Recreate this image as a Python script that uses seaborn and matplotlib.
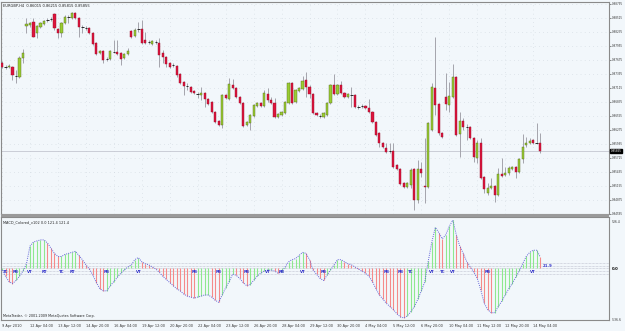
import numpy as np
import matplotlib
matplotlib.use("Agg")
import matplotlib.pyplot as plt
import matplotlib.transforms as mtransforms
from matplotlib.patches import Rectangle
import seaborn as sns

symbol = "EURGBP,H4"

# H4 candles, prices in points (1e-5)
opens = [87615, 87535, 87535, 87535, 87355, 87335, 87715, 88355, 88375, 88435,
         88215, 88335, 88395, 88475, 88495, 88595, 88295, 88215, 88415, 88535,
         88515, 88615, 88515, 88335, 88315, 88315, 88215, 88015, 87815, 87855,
         87695, 87695, 87835, 87835, 87815, 87715, 87795, 88255, 88155, 88295,
         88295, 88075, 88035, 87995, 88035, 88015, 87815, 87735, 87615, 87575,
         87555, 87395, 87235, 87155, 87135, 87055, 86995, 86975, 87015, 86895,
         86835, 86635, 86455, 86375, 86975, 86895, 87175, 87115, 86935, 86815,
         86375, 86415, 86555, 86755, 86815, 86755, 86995, 86875, 86815, 86535,
         86575, 86615, 86815, 87215, 86835, 87055, 87095, 87275, 87135, 86995,
         86615, 86555, 86535, 86575, 86815, 87175, 86995, 87175, 87015, 86935,
         86975, 86975, 86735, 86755, 86755, 86715, 86635, 86435, 86215, 86015,
         85915, 85855, 85855, 85575, 85495, 85215, 85135, 85175, 85495, 84875,
         85495, 85155, 85135, 86275, 87115, 86795, 86215, 86935, 86775, 86935,
         87335, 86195, 86455, 86335, 86335, 86115, 85715, 86015, 85335, 85015,
         85115, 85155, 84975, 85395, 85375, 85415, 85495, 85535, 85435, 85695,
         85975, 86015, 86075, 86015, 86015]
highs = [87655, 87575, 87595, 87555, 87475, 87755, 87895, 88515, 88435, 88515,
         88375, 88435, 88475, 88515, 88535, 88615, 88315, 88435, 88575, 88575,
         88635, 88635, 88535, 88375, 88355, 88335, 88235, 88035, 87875, 87875,
         87735, 87875, 88075, 88075, 87835, 87815, 87915, 88275, 88315, 88435,
         88475, 88235, 88075, 88075, 88075, 88115, 87875, 87755, 87635, 87615,
         87575, 87415, 87255, 87215, 87155, 87075, 87035, 87135, 87035, 86915,
         86855, 86655, 86475, 86995, 86995, 87315, 87295, 87135, 86955, 86835,
         86455, 86595, 86795, 86835, 86835, 87075, 87115, 86935, 86915, 86615,
         86655, 86855, 87235, 87235, 87095, 87135, 87355, 87435, 87175, 87015,
         86635, 86595, 86635, 86835, 87195, 87395, 87195, 87255, 87035, 87015,
         87135, 86995, 86775, 86795, 86775, 86895, 86655, 86455, 86235, 86035,
         86015, 86015, 86015, 85595, 85515, 85235, 85235, 85515, 85515, 85675,
         85635, 86115, 86435, 87215, 88135, 86815, 86235, 87415, 87235, 87595,
         87355, 86635, 86515, 86395, 86355, 86135, 86075, 86115, 85355, 85215,
         85315, 85175, 85515, 85715, 85535, 85555, 85555, 85555, 85715, 86195,
         86135, 86115, 86095, 86415, 86215]
lows = [87515, 87495, 87515, 87275, 87215, 87315, 87615, 88215, 88335, 88135,
        88115, 88315, 88375, 88435, 88455, 88275, 88115, 88135, 88395, 88415,
        88495, 88495, 88135, 88215, 88275, 88195, 87975, 87775, 87795, 87615,
        87655, 87675, 87815, 87775, 87575, 87695, 87775, 88115, 88135, 88235,
        87995, 87995, 87995, 87975, 87995, 87535, 87615, 87535, 87515, 87535,
        87335, 87195, 86975, 87075, 87015, 86995, 86915, 86875, 86735, 86775,
        86615, 86415, 86355, 86315, 86895, 86875, 87095, 86915, 86795, 86335,
        86355, 86275, 86535, 86735, 86735, 86735, 86835, 86795, 86515, 86515,
        86555, 86595, 86795, 86795, 86815, 87035, 87075, 86935, 86915, 86595,
        86555, 86515, 86515, 86555, 86795, 86975, 86975, 86995, 86915, 86915,
        86735, 86715, 86695, 86715, 86695, 86615, 86415, 86155, 85935, 85915,
        85815, 85815, 85515, 85475, 85175, 85115, 85115, 85115, 84675, 84815,
        85335, 84815, 85115, 86255, 86575, 86175, 86115, 86675, 86635, 86915,
        86155, 85735, 86275, 86075, 86095, 85635, 85615, 85295, 85015, 84975,
        85095, 84835, 84955, 85335, 85355, 85375, 85475, 85315, 85415, 85615,
        85935, 85995, 85995, 85995, 85815]
closes = [87535, 87535, 87555, 87375, 87355, 87715, 87815, 88395, 88415, 88135,
          88355, 88415, 88455, 88475, 88495, 88315, 88215, 88415, 88535, 88535,
          88615, 88515, 88335, 88335, 88315, 88215, 87995, 87795, 87855, 87675,
          87695, 87855, 87835, 87795, 87695, 87795, 87855, 88135, 88275, 88295,
          88015, 88015, 88035, 88055, 88035, 87775, 87735, 87595, 87535, 87575,
          87375, 87215, 87155, 87155, 87035, 87015, 86995, 87015, 86895, 86795,
          86635, 86435, 86375, 86975, 86915, 87195, 87115, 86935, 86815, 86355,
          86435, 86575, 86775, 86815, 86755, 87015, 86875, 86815, 86535, 86595,
          86635, 86835, 87215, 86815, 87075, 87115, 87255, 87135, 86995, 86615,
          86575, 86555, 86615, 86815, 87175, 86995, 87175, 87015, 86935, 86995,
          86975, 86735, 86735, 86755, 86715, 86635, 86435, 86175, 86015, 85935,
          85835, 85855, 85535, 85495, 85195, 85135, 85215, 85475, 84875, 85495,
          85415, 85135, 86415, 87135, 86775, 86215, 86135, 86795, 86955, 87335,
          86175, 86455, 86335, 86335, 86115, 85735, 86015, 85315, 85095, 85115,
          85155, 84975, 85395, 85355, 85415, 85515, 85535, 85435, 85695, 85935,
          86015, 86055, 86015, 86015, 85855]

# MACD_Colored main line, one value per candle
macd = [-16, -81, -136, -157, -125, -81, -27, 49, 233, 276,
        287, 298, 298, 266, 211, 157, 125, 125, 146, 157,
        168, 179, 136, 92, 38, -5, -70, -146, -211, -233,
        -233, -179, -136, -92, -49, -16, 16, 38, 92, 114,
        70, 49, 38, 16, -5, -38, -81, -114, -146, -179,
        -211, -233, -266, -287, -298, -309, -298, -287, -276, -276,
        -298, -331, -352, -276, -201, -136, -60, -70, -103, -146,
        -179, -168, -125, -81, -49, -27, -16, -16, -27, -49,
        -38, 16, 70, 92, 103, 136, 168, 157, 92, -16,
        -60, -103, -125, -70, -16, 38, 92, 92, 70, 49,
        38, 16, -5, -27, -49, -81, -136, -211, -276, -320,
        -363, -396, -428, -472, -504, -515, -493, -450, -396, -320,
        -233, -136, 81, 276, 428, 374, 309, 352, 439, 504,
        352, 233, 157, 70, 16, -38, -103, -222, -363, -428,
        -461, -461, -396, -342, -276, -211, -157, -92, -27, 49,
        125, 168, 190, 190, 121.4]
macd_levels = [55, 27, 0, -27, -55]

signal_tags = ["TC", "RB", "VT", "RT", "TC", "RT", "RB", "VT", "RB", "RB", "RB", "VT",
               "RB", "VT", "RB", "RB", "RB", "TC", "VT", "TC", "VT", "RB", "VT"]
signal_bars = [1, 4, 8, 12, 17, 20, 30, 39, 55, 62, 70, 76,
               80, 86, 92, 110, 114, 117, 123, 126, 129, 139, 152]

date_labels = ["9 Apr 2010", "12 Apr 04:00", "13 Apr 12:00", "14 Apr 20:00", "16 Apr 04:00",
               "19 Apr 12:00", "20 Apr 20:00", "22 Apr 04:00", "23 Apr 12:00", "26 Apr 20:00",
               "28 Apr 04:00", "29 Apr 12:00", "30 Apr 20:00", "4 May 04:00", "5 May 12:00",
               "6 May 20:00", "10 May 04:00", "11 May 12:00", "12 May 20:00", "14 May 04:00"]
price_ticks = [0.88795, 0.88515, 0.88235, 0.87955, 0.87675, 0.87395, 0.87115, 0.86835,
               0.86555, 0.86275, 0.85995, 0.85715, 0.85435, 0.85155, 0.84875, 0.84595]

o = np.array(opens) / 1e5
h = np.array(highs) / 1e5
l = np.array(lows) / 1e5
c = np.array(closes) / 1e5
m = np.array(macd, dtype=float)
x = np.arange(len(o))

sns.set_style("white")
plt.rcParams['font.family'] = ['DejaVu Sans']

bg = '#f2f7fb'
W, H = 625, 331


def px_rect(x0, y0, x1, y1):
    return [x0 / W, 1 - y1 / H, (x1 - x0) / W, (y1 - y0) / H]


fig = plt.figure(figsize=(6.25, 3.31), dpi=100, facecolor=bg)
ax = fig.add_axes(px_rect(1, 2, 609, 214), facecolor=bg)
ax2 = fig.add_axes(px_rect(1, 217, 609, 320), facecolor=bg, sharex=ax)

# candles
up = c > o
dn = c < o
flat = c == o
ax.vlines(x, l, h, color='#a4a4ac', lw=0.7, zorder=2)
ax.bar(x[up], (c - o)[up], bottom=o[up], width=0.62, color='#9acd32',
       edgecolor='#55661f', lw=0.3, zorder=3)
ax.bar(x[dn], (o - c)[dn], bottom=c[dn], width=0.62, color='#dc143c',
       edgecolor='#9a0e2a', lw=0.3, zorder=3)
ax.hlines(o[flat], x[flat] - 0.35, x[flat] + 0.35, color='#2a2a2a', lw=0.7, zorder=3)

ax.axhline(c[-1], color='#c4c6d0', lw=0.6, zorder=1)
ax.set_xlim(-0.29, 173.7)
ax.set_ylim(0.84595, 0.88835)
ax.set_yticks(price_ticks)
ax.set_yticklabels([f"{v:.5f}" for v in price_ticks])
ax.yaxis.set_ticks_position('right')
ax.tick_params(axis='y', length=1.5, width=0.4, pad=0.5, labelsize=1.95,
               colors='#333333')
ax.tick_params(axis='x', length=0, labelbottom=False)
ax.grid(True, color='#cdd5dd', lw=0.5, ls=(0, (1, 5)))

ax.text(0.004, 0.99, f"{symbol}  {o[-1]:.5f} {h[-1]:.5f} {l[-1]:.5f} {c[-1]:.5f}",
        transform=ax.transAxes, fontsize=2.6, va='top', ha='left', color='#222222')
trans = mtransforms.blended_transform_factory(ax.transAxes, ax.transData)
ax.text(1.003, c[-1], f"{c[-1]:.5f}", transform=trans, fontsize=1.95, color='white',
        va='center', ha='left',
        bbox=dict(boxstyle='square,pad=0.15', fc='black', ec='black'))

# MACD panel
for lv in macd_levels:
    ax2.axhline(lv, color='#b8bac8', lw=0.5, ls=(0, (1, 1)), zorder=1)
hist_colors = ['#8ee88e' if i == 0 or m[i] >= m[i - 1] else '#f58a8a' for i in range(len(m))]
ax2.vlines(x, 0, m, colors=hist_colors, lw=0.8, zorder=2)
sns.lineplot(x=x, y=m, ax=ax2, color='#6464d8', lw=0.7,
             linestyle=(0, (1, 1.2)), zorder=3)

for tag, b in zip(signal_tags, signal_bars):
    ax2.text(b, -38, tag, color='#3434cc', fontsize=2.8, fontweight='bold',
             ha='center', va='center', zorder=4)
ax2.text(len(m) - 0.2, 28, "21.9", color='#3434cc', fontsize=2.8, fontweight='bold',
         ha='left', va='center', zorder=4)

ax2.set_ylim(-536.6, 536.4)
ax2.set_yticks([])
ax2.set_xlabel('')
ax2.set_ylabel('')
ax2.set_xticks(np.arange(len(date_labels)) * 8)
ax2.set_xticklabels(date_labels, ha='left')
ax2.tick_params(axis='x', length=2, width=0.4, pad=1.2, labelsize=2.5,
                colors='#333333')

ax2.text(0.003, 0.97, f"MACD_Colored_v102 0.0 {m[-1]:.1f} {m[-1]:.1f}",
         transform=ax2.transAxes, fontsize=2.5, va='top', ha='left', color='#222222')
ax2.text(0.003, 0.02, "MetaTrader, \u00a9 2001-2009 MetaQuotes Software Corp.",
         transform=ax2.transAxes, fontsize=2.4, va='bottom', ha='left', color='#222222')
ax2.text(1.004, 0.97, "536.4", transform=ax2.transAxes, fontsize=2.2, va='top',
         ha='left', color='#333333')
ax2.text(1.004, 0.0, "-536.6", transform=ax2.transAxes, fontsize=2.2, va='center',
         ha='left', color='#333333')
ax2.text(1.004, 0.5, "0.0", transform=ax2.transAxes, fontsize=2.8, va='center',
         ha='left', color='#111111', fontweight='bold')

for a in (ax, ax2):
    for s in a.spines.values():
        s.set_color('#8a8a8a')
        s.set_linewidth(0.8)

fig.add_artist(Rectangle((1 / W, 1 - 217 / H), 608 / W, 3 / H,
                         transform=fig.transFigure, color='#9a9a9a', lw=0))

fig.savefig('out.png', dpi=100, facecolor=bg)
